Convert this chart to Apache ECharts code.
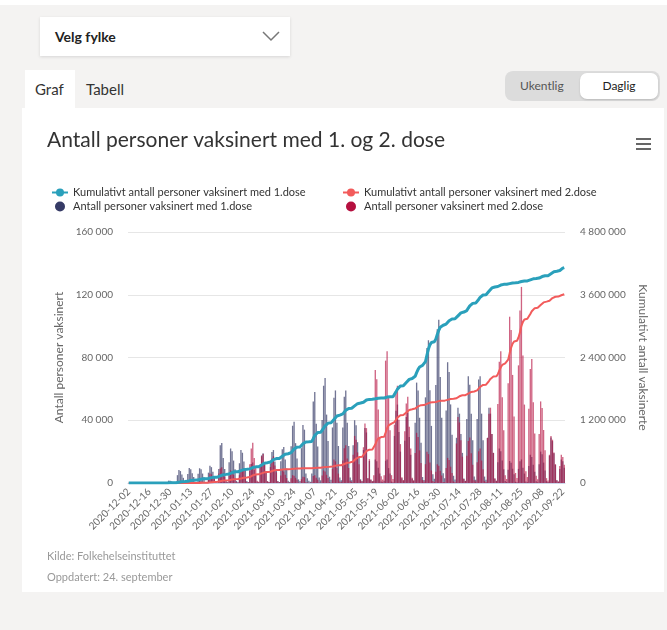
<!DOCTYPE html>
<html><head><meta charset="utf-8">
<script src="https://cdn.jsdelivr.net/npm/echarts/dist/echarts.min.js"></script>
<style>
html,body{margin:0;padding:0;}
body{width:667px;height:630px;background:#f4f3f2;position:relative;overflow:hidden;font-family:Lato,"Noto Sans",sans-serif;}
#topstrip{position:absolute;left:0;top:0;width:667px;height:5px;background:#fff;}
#dropdown{position:absolute;left:40px;top:17px;width:250px;height:39px;background:#fff;box-shadow:0 1px 3px rgba(0,0,0,0.12);}
#dropdown span{position:absolute;left:15px;top:0;line-height:39px;font-size:14px;font-weight:700;color:#222;}
#dropdown svg{position:absolute;left:222px;top:14px;}
#tabGraf{position:absolute;left:25px;top:70px;width:50px;height:40px;background:#fff;}
#tabGraf span{position:absolute;left:10px;top:10px;font-size:15px;color:#333;}
#tabTabell{position:absolute;left:86px;top:80px;font-size:15px;color:#333;}
#toggle{position:absolute;left:505px;top:71px;width:155px;height:30px;background:#dcdcdc;border-radius:8px;}
#toggle .uk{position:absolute;left:15px;top:0;line-height:30px;font-size:12px;color:#555;}
#toggle .dg{position:absolute;left:75px;top:2px;width:78px;height:26px;background:#fff;border-radius:7px;box-shadow:0 1px 2px rgba(0,0,0,0.15);text-align:center;line-height:26px;font-size:12px;color:#222;}
#card{position:absolute;left:22px;top:108px;width:642px;height:484px;background:#fff;}
#chart{position:absolute;left:0;top:0;width:667px;height:630px;z-index:2;}
</style>
</head><body>
<div id="topstrip"></div>
<div id="dropdown"><span>Velg fylke</span><svg width="18" height="11" viewBox="0 0 18 11"><polyline points="1,1 9,9 17,1" fill="none" stroke="#777" stroke-width="1.5"/></svg></div>
<div id="tabGraf"><span>Graf</span></div>
<div id="tabTabell">Tabell</div>
<div id="toggle"><span class="uk">Ukentlig</span><span class="dg">Daglig</span></div>
<div id="card"></div>
<div id="chart"></div>
<script>
// ---------------- DATA (values in thousands) ----------------
const startDate = '2020-12-02';
const xTickLabels = ['2020-12-02','2020-12-16','2020-12-30','2021-01-13','2021-01-27','2021-02-10','2021-02-24','2021-03-10','2021-03-24','2021-04-07','2021-04-21','2021-05-05','2021-05-19','2021-06-02','2021-06-16','2021-06-30','2021-07-14','2021-07-28','2021-08-11','2021-08-25','2021-09-08','2021-09-22'];
const seriesNames = ['Kumulativt antall personer vaksinert med 1.dose','Kumulativt antall personer vaksinert med 2.dose','Antall personer vaksinert med 1.dose','Antall personer vaksinert med 2.dose'];
const leftTicks = [0, 40, 80, 120, 160];
const rightTicks = [0, 1200, 2400, 3600, 4800];

const dose1Daily = [
0,0,0,0,0,
0,0,0,0,0,0,0,
0,0,0,0,0,0,0,
0,0,0,0,0,0,0.4,
0.6,1.5,1.4,1.0,0.3,0.1,0.1,
5.0,8.3,7.6,5.4,3.3,0.5,0.2,
5.7,9.5,8.7,6.2,3.8,0.6,0.3,
5.9,9.4,8.8,6.0,3.7,0.6,0.3,
6.6,11.0,10.1,7.2,4.4,0.7,0.3,
9.0,24.0,25.5,16.0,9.0,1.2,0.6,
13.2,22.0,20.2,14.3,8.8,1.3,0.7,
12.6,21.0,19.3,13.7,8.4,1.3,0.6,
7.8,12.1,13.0,8.5,5.2,0.8,0.4,
11.4,17.6,19.0,12.4,7.6,1.1,0.6,
12.6,19.8,21.0,13.7,8.4,1.3,0.6,
13.8,21.5,23.0,15.0,9.2,1.4,0.7,
23.4,36.5,39.0,25.4,15.6,2.3,1.2,
22.2,37.0,34.0,6.0,3.0,1.5,0.8,
6.0,52.0,58.0,37.7,23.2,3.5,1.7,
40.2,62.0,67.0,43.6,26.8,4.0,2.0,
35.4,54.3,59.0,38.4,23.6,3.5,1.8,
35.4,55.0,59.0,38.4,23.6,3.5,1.8,
24.0,40.0,36.8,26.0,16.0,2.4,1.2,
21.0,35.0,32.2,3.0,14.0,2.1,1.1,
1.5,15.0,13.8,9.8,6.0,0.9,0.5,
1.4,14.2,15.0,9.5,6.1,0.9,0.4,
30.0,46.0,50.0,32.5,20.0,3.0,1.5,
27.0,42.0,45.0,29.3,18.0,2.7,1.4,
38.4,64.0,58.9,41.6,25.6,3.8,1.9,
54.6,86.0,91.0,59.2,36.4,5.5,2.7,
62.4,98.0,104.0,67.6,41.6,6.2,3.1,
46.2,77.0,70.8,50.1,30.8,4.6,2.3,
28.8,48.0,44.2,31.2,19.2,2.9,1.4,
40.8,68.0,62.6,44.2,27.2,4.1,2.0,
40.8,66.0,68.0,44.2,27.2,4.1,2.0,
28.8,48.0,44.2,31.2,19.2,2.9,1.4,
13.2,22.0,20.2,14.3,8.8,1.3,0.7,
8.4,14.0,12.9,9.1,5.6,0.8,0.4,
9.0,13.9,15.0,9.8,6.0,0.9,0.5,
10.8,18.0,16.6,11.7,7.2,1.1,0.5,
12.0,20.0,18.4,13.0,8.0,1.2,0.6,
17.4,29.0,26.7,18.9,11.6,1.7,0.9,
9.0,15.0,13.8,9.8
];

const dose2Daily = [
0,0,0,0,0,
0,0,0,0,0,0,0,
0,0,0,0,0,0,0,
0,0,0,0,0,0,0,
0,0,0,0,0,0,0,
0,0,0,0,0,0,0,
0,0,0,0,0,0,0,
0.6,1.0,0.9,0.7,0.4,0.1,0.0,
3.6,6.0,5.5,3.9,2.4,0.4,0.2,
6.0,9.2,10.0,6.5,4.0,0.6,0.3,
4.8,8.0,7.4,5.2,3.2,0.5,0.2,
5.0,7.5,8.5,9.5,4.0,0.6,0.3,
12.0,22.0,25.7,16.0,10.0,1.5,0.8,
11.1,17.0,18.5,12.0,7.4,1.1,0.6,
10.2,15.6,17.0,11.1,6.8,1.0,0.5,
4.8,8.0,7.4,5.2,3.2,0.5,0.2,
3.0,5.0,4.6,3.3,2.0,0.3,0.2,
2.4,4.0,3.7,0.5,0.3,0.2,0.1,
0.5,4.5,5.0,3.3,2.0,0.3,0.2,
4.8,8.0,7.4,5.2,3.2,0.5,0.2,
9.0,15.0,13.8,9.8,6.0,0.9,0.5,
14.4,22.1,24.0,15.6,9.6,1.4,0.7,
18.0,30.0,27.6,19.5,12.0,1.8,0.9,
22.8,38.0,35.0,3.0,15.2,2.3,1.1,
5.0,72.0,66.2,46.8,28.8,4.3,2.2,
5.0,78.0,84.0,54.6,33.6,5.0,2.5,
37.2,57.0,62.0,40.3,24.8,3.7,1.9,
33.0,50.6,55.0,35.8,22.0,3.3,1.7,
19.2,32.0,29.4,20.8,12.8,1.9,1.0,
12.0,20.0,18.4,13.0,8.0,1.2,0.6,
7.2,12.0,11.0,7.8,4.8,0.7,0.4,
9.6,16.0,14.7,10.4,6.4,1.0,0.5,
25.2,42.0,38.6,27.3,16.8,2.5,1.3,
17.4,26.7,29.0,18.9,11.6,1.7,0.9,
13.2,20.2,22.0,14.3,8.8,1.3,0.7,
28.8,44.2,48.0,31.2,19.2,2.9,1.4,
50.4,77.3,84.0,54.6,33.6,5.0,2.5,
63.6,106.0,97.5,68.9,42.4,6.4,3.2,
75.0,110.0,125.0,81.3,50.0,7.5,3.8,
47.4,72.7,79.0,51.4,31.6,4.7,2.4,
31.2,52.0,47.8,33.8,20.8,3.1,1.6,
18.0,30.0,27.6,19.5,12.0,1.8,0.9,
10.8,18.0,16.6,11.7
];

const dose1Cumulative = [
0,0,0,0,0,
0,0,0,0,0,0,0,
0,0,0,0,0,0,0,
0,0,0,0,0,0,0,
1,2,4,5,6,6,6,
10,16,21,25,27,28,28,
32,40,47,52,54,55,55,
59,67,74,79,81,82,82,
87,95,103,108,111,112,112,
121,135,149,158,163,165,165,
173,187,200,209,214,215,215,
223,236,247,256,261,262,262,
270,283,295,304,309,310,310,
323,345,365,380,388,389,390,
403,425,445,460,468,469,470,
484,510,532,548,557,559,560,
581,617,650,673,686,689,690,
715,750,780,785,787,789,790,
795,849,909,947,965,968,970,
999,1049,1094,1127,1145,1148,1150,
1174,1216,1254,1281,1296,1299,1300,
1321,1357,1390,1413,1426,1429,1430,
1446,1474,1499,1517,1527,1529,1530,
1544,1565,1586,1587,1599,1599,1600,
1601,1610,1618,1622,1625,1625,1625,
1626,1635,1643,1647,1650,1650,1650,
1684,1742,1795,1833,1854,1858,1860,
1882,1922,1957,1982,1996,1999,2000,
2040,2110,2173,2218,2243,2248,2250,
2322,2448,2561,2642,2687,2696,2700,
2751,2841,2921,2978,3010,3017,3020,
3039,3073,3103,3124,3136,3139,3140,
3161,3197,3230,3253,3266,3269,3270,
3297,3345,3387,3418,3435,3438,3440,
3466,3510,3550,3579,3595,3598,3600,
3624,3666,3704,3731,3746,3749,3750,
3758,3772,3785,3794,3799,3800,3800,
3805,3813,3821,3826,3829,3830,3830,
3836,3845,3854,3860,3864,3865,3865,
3872,3885,3896,3904,3909,3910,3910,
3919,3934,3948,3958,3963,3964,3965,
3979,4002,4024,4039,4047,4049,4050,
4064,4089,4110,4120
];

const dose2Cumulative = [
0,0,0,0,0,
0,0,0,0,0,0,0,
0,0,0,0,0,0,0,
0,0,0,0,0,0,0,
0,0,0,0,0,0,0,
0,0,0,0,0,0,0,
0,0,0,0,0,0,0,
1,2,3,4,4,4,4,
7,12,16,20,21,22,22,
26,34,41,46,49,50,50,
54,61,67,72,74,75,75,
80,87,95,102,104,105,105,
113,128,146,157,163,164,165,
172,185,196,204,209,210,210,
216,228,238,245,249,250,250,
252,257,260,263,265,265,265,
267,269,272,274,275,275,275,
277,280,282,283,283,283,283,
283,286,289,291,292,292,292,
295,300,304,308,309,310,310,
315,323,331,336,339,340,340,
349,364,378,388,393,394,395,
412,441,467,486,497,499,500,
528,570,612,615,637,639,640,
647,736,808,851,875,878,880,
885,963,1046,1101,1132,1137,1140,
1166,1210,1250,1279,1295,1298,1300,
1318,1348,1376,1396,1407,1409,1410,
1423,1445,1465,1480,1488,1489,1490,
1499,1514,1528,1538,1543,1544,1545,
1550,1558,1566,1571,1574,1575,1575,
1581,1590,1599,1605,1609,1610,1610,
1621,1641,1658,1671,1678,1679,1680,
1691,1711,1728,1741,1748,1749,1750,
1771,1807,1840,1863,1876,1879,1880,
1906,1950,1990,2019,2035,2038,2040,
2080,2150,2213,2258,2283,2288,2290,
2359,2479,2587,2664,2707,2716,2720,
2783,2880,3006,3081,3127,3136,3140,
3174,3232,3285,3323,3344,3348,3350,
3369,3403,3433,3454,3466,3469,3470,
3485,3512,3536,3553,3562,3564,3565,
3574,3590,3603,3610
];

// ---------------- build ----------------
function buildDates(start, n) {
  const out = [];
  const t0 = Date.parse(start + 'T00:00:00Z');
  for (let i = 0; i < n; i++) {
    out.push(new Date(t0 + i * 86400000).toISOString().slice(0, 10));
  }
  return out;
}
const categories = buildDates(startDate, dose1Daily.length);
function fmt(v) { return String(Math.round(v * 1000)).replace(/\B(?=(\d{3})+(?!\d))/g, ' '); }

const FONT = 'Lato, "Noto Sans", sans-serif';
const C_TEAL = '#2aa0bb', C_RED = '#f25b5b', C_NAVY = '#363b66', C_CRIMSON = '#b5103f';
const legendText = {fontSize: 11, color: '#333', fontFamily: FONT};

const chart = echarts.init(document.getElementById('chart'), null, {renderer: 'canvas'});
chart.setOption({
  animation: false,
  backgroundColor: 'transparent',
  textStyle: {fontFamily: FONT},
  title: {
    text: 'Antall personer vaksinert med 1. og 2. dose',
    left: 42, top: 125,
    textStyle: {fontSize: 21, fontWeight: 'normal', color: '#333', fontFamily: FONT}
  },
  legend: [
    {left: 46, top: 182, orient: 'vertical', itemGap: 3, itemWidth: 16, itemHeight: 10, textStyle: legendText,
     data: [{name: seriesNames[0]}, {name: seriesNames[2], icon: 'circle', itemStyle: {color: C_NAVY, opacity: 1}}]},
    {left: 337, top: 182, orient: 'vertical', itemGap: 3, itemWidth: 16, itemHeight: 10, textStyle: legendText,
     data: [{name: seriesNames[1]}, {name: seriesNames[3], icon: 'circle', itemStyle: {color: C_CRIMSON, opacity: 1}}]}
  ],
  grid: {left: 128, right: 102, top: 232, bottom: 147, containLabel: false},
  xAxis: {
    type: 'category', data: categories, boundaryGap: true,
    axisLine: {lineStyle: {color: '#ccd6eb'}},
    axisTick: {show: false},
    axisLabel: {
      interval: 13, rotate: 45, fontSize: 10, color: '#666', margin: 7, fontFamily: FONT,
      formatter: v => (xTickLabels.indexOf(v) >= 0 ? v : '')
    },
    splitLine: {show: false}
  },
  yAxis: [
    {type: 'value', min: leftTicks[0], max: leftTicks[leftTicks.length - 1], interval: 40, position: 'left',
     name: 'Antall personer vaksinert', nameLocation: 'middle', nameGap: 62, nameRotate: 90,
     nameTextStyle: {fontSize: 12, color: '#666', fontFamily: FONT},
     axisLine: {show: false}, axisTick: {show: false},
     axisLabel: {formatter: fmt, fontSize: 10, color: '#666', margin: 15, fontFamily: FONT},
     splitLine: {lineStyle: {color: '#e6e6e6'}}},
    {type: 'value', min: rightTicks[0], max: rightTicks[rightTicks.length - 1], interval: 1200, position: 'right',
     name: 'Kumulativt antall vaksinerte', nameLocation: 'middle', nameGap: 70, nameRotate: -90,
     nameTextStyle: {fontSize: 12, color: '#666', fontFamily: FONT},
     axisLine: {show: false}, axisTick: {show: false},
     axisLabel: {formatter: fmt, fontSize: 10, color: '#666', margin: 15, fontFamily: FONT},
     splitLine: {show: false}}
  ],
  series: [
    {name: seriesNames[2], type: 'bar', yAxisIndex: 0, data: dose1Daily, barWidth: '90%', barGap: '-100%',
     itemStyle: {color: C_NAVY, opacity: 0.7}, color: C_NAVY, z: 2},
    {name: seriesNames[3], type: 'bar', yAxisIndex: 0, data: dose2Daily, barWidth: '90%', barGap: '-100%',
     itemStyle: {color: C_CRIMSON, opacity: 0.65}, color: C_CRIMSON, z: 3},
    {name: seriesNames[0], type: 'line', yAxisIndex: 1, data: dose1Cumulative, showSymbol: false, symbol: 'circle', symbolSize: 6,
     lineStyle: {width: 3, color: C_TEAL}, itemStyle: {color: C_TEAL}, color: C_TEAL, z: 5},
    {name: seriesNames[1], type: 'line', yAxisIndex: 1, data: dose2Cumulative, showSymbol: false, symbol: 'circle', symbolSize: 6,
     lineStyle: {width: 2, color: C_RED}, itemStyle: {color: C_RED}, color: C_RED, z: 4}
  ],
  graphic: [
    {type: 'rect', left: 636, top: 138, shape: {width: 15, height: 2}, style: {fill: '#666'}},
    {type: 'rect', left: 636, top: 143, shape: {width: 15, height: 2}, style: {fill: '#666'}},
    {type: 'rect', left: 636, top: 148, shape: {width: 15, height: 2}, style: {fill: '#666'}},
    {type: 'text', left: 47, top: 551, style: {text: 'Kilde: Folkehelseinstituttet', fontSize: 11, fill: '#999', fontFamily: FONT}},
    {type: 'text', left: 47, top: 572, style: {text: 'Oppdatert: 24. september', fontSize: 11, fill: '#999', fontFamily: FONT}}
  ]
});
</script>
</body></html>
